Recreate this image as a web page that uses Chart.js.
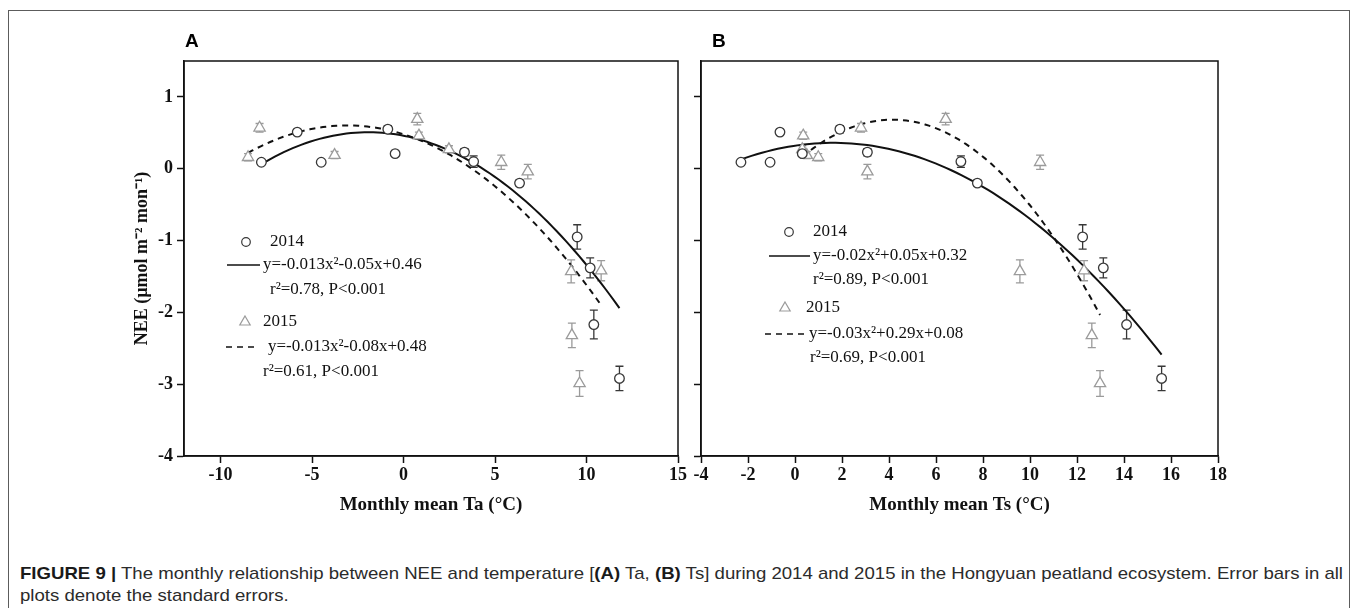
<!DOCTYPE html>
<html>
<head>
<meta charset="utf-8">
<script src="https://cdn.jsdelivr.net/npm/chart.js@4.4.1/dist/chart.umd.min.js"></script>
<style>
  html, body { margin: 0; padding: 0; background: #fff; width: 1358px; height: 608px; overflow: hidden; }
  #frame { position: absolute; left: 8px; top: 10px; width: 1342px; height: 660px; border: 1.5px solid #5c5c5c; box-sizing: border-box; }
  .panel { position: absolute; top: 0; }
  .tag { position: absolute; top: 31px; font: bold 19px "Liberation Sans", Arial, sans-serif; color: #000; line-height: 19px; }
  .cap { position: absolute; left: 20px; font: 17px "Liberation Sans", Arial, sans-serif; color: #2b2b2b; white-space: nowrap; transform-origin: 0 0; line-height: 22px; }
  .cap b { font-weight: bold; color: #1a1a1a; }
</style>
</head>
<body>
<div id="frame"></div>
<canvas id="chartA" class="panel" width="690" height="530" style="left:0px;width:690px;height:530px"></canvas>
<canvas id="chartB" class="panel" width="668" height="530" style="left:690px;width:668px;height:530px"></canvas>
<div class="tag" style="left:185px">A</div>
<div class="tag" style="left:712px">B</div>
<div id="cap1" class="cap" style="top:563px"><b>FIGURE 9 |</b> The monthly relationship between NEE and temperature [<b>(A)</b> Ta, <b>(B)</b> Ts] during 2014 and 2015 in the Hongyuan peatland ecosystem. Error bars in all</div>
<div id="cap2" class="cap" style="top:585px">plots denote the standard errors.</div>

<script>
// Monthly NEE (µmol m-2 mon-1) and its standard error, same month order in both panels
const nee2014 = [0.09, 0.51, 0.09, 0.55, 0.21, 0.23, 0.10, -0.20, -0.95, -1.38, -2.17, -2.92];
const se2014  = [0.03, 0.03, 0.03, 0.05, 0.03, 0.05, 0.08, 0.04, 0.17, 0.14, 0.20, 0.17];
const nee2015 = [0.16, 0.57, 0.19, 0.69, 0.46, 0.27, 0.09, -0.04, -1.43, -1.42, -2.32, -2.99];
const se2015  = [0.05, 0.06, 0.05, 0.08, 0.05, 0.05, 0.10, 0.10, 0.16, 0.14, 0.17, 0.18];

// Monthly mean air temperature Ta (°C)
const ta2014 = [-7.77, -5.81, -4.5, -0.86, -0.46, 3.33, 3.83, 6.34, 9.49, 10.2, 10.4, 11.8];
const ta2015 = [-8.5, -7.87, -3.77, 0.75, 0.84, 2.48, 5.34, 6.79, 9.16, 10.8, 9.2, 9.62];

// Monthly mean soil temperature Ts (°C)
const ts2014 = [-2.30, -0.64, -1.06, 1.91, 0.31, 3.08, 7.06, 7.76, 12.24, 13.12, 14.11, 15.6];
const ts2015 = [0.99, 2.81, 0.5, 6.41, 0.35, 0.31, 10.43, 3.08, 9.57, 12.3, 12.63, 12.98];

// Quadratic fits [a, b, c] for y = a x^2 + b x + c
const fitTa2014 = [-0.013, -0.05, 0.46];
const fitTa2015 = [-0.013, -0.08, 0.48];
const fitTs2014 = [-0.0151, 0.049, 0.321];
const fitTs2015 = [-0.0349, 0.29, 0.08];

// Axis ticks
const taTicks = [-10, -5, 0, 5, 10, 15];
const tsTicks = [-4, -2, 0, 2, 4, 6, 8, 10, 12, 14, 16, 18];
const neeTicks = [-4, -3, -2, -1, 0, 1];

// Legend texts
const yearLabels = ['2014', '2015'];
const taFitText = ['y=-0.013x\u00B2-0.05x+0.46', 'r\u00B2=0.78, P<0.001', 'y=-0.013x\u00B2-0.08x+0.48', 'r\u00B2=0.61, P<0.001'];
const tsFitText = ['y=-0.02x\u00B2+0.05x+0.32', 'r\u00B2=0.89, P<0.001', 'y=-0.03x\u00B2+0.29x+0.08', 'r\u00B2=0.69, P<0.001'];

const DARK = '#383838';
const LIGHT = '#9b9b9b';
const SERIF = '"Liberation Serif", "Times New Roman", serif';

function pts(xs, ys) { return xs.map((x, i) => ({ x: x, y: ys[i] })); }
function quadCurve(coef, xs, n) {
  const x0 = Math.min(...xs), x1 = Math.max(...xs);
  const out = [];
  for (let i = 0; i <= n; i++) {
    const x = x0 + (x1 - x0) * i / n;
    out.push({ x: x, y: coef[0] * x * x + coef[1] * x + coef[2] });
  }
  return out;
}

// Vertical error bars with caps, drawn under the markers
const errorBars = {
  id: 'errorBars',
  beforeDatasetsDraw(chart) {
    const { ctx, scales } = chart;
    ctx.save();
    chart.data.datasets.forEach(ds => {
      if (!ds.errors) return;
      ctx.strokeStyle = ds.borderColor;
      ctx.lineWidth = 1.3;
      ds.data.forEach((p, i) => {
        const e = ds.errors[i];
        const x = scales.x.getPixelForValue(p.x);
        const yT = scales.y.getPixelForValue(p.y + e);
        const yB = scales.y.getPixelForValue(p.y - e);
        ctx.beginPath();
        ctx.moveTo(x, yT); ctx.lineTo(x, yB);
        ctx.moveTo(x - 4, yT); ctx.lineTo(x + 4, yT);
        ctx.moveTo(x - 4, yB); ctx.lineTo(x + 4, yB);
        ctx.stroke();
      });
    });
    ctx.restore();
  }
};

// Closed plot frame
const plotBox = {
  id: 'plotBox',
  afterDraw(chart) {
    const { ctx, chartArea: a } = chart;
    ctx.save();
    ctx.strokeStyle = '#111';
    ctx.lineWidth = 1.5;
    ctx.strokeRect(a.left, a.top, a.right - a.left, a.bottom - a.top);
    ctx.restore();
  }
};

// In-plot key: year markers, fit line samples and fit statistics
const fitKey = {
  id: 'fitKey',
  afterDraw(chart, args, opts) {
    if (!opts.rows) return;
    const { ctx, chartArea: a } = chart;
    ctx.save();
    ctx.font = '17px ' + SERIF;
    ctx.fillStyle = '#111';
    ctx.textBaseline = 'middle';
    ctx.textAlign = 'left';
    opts.rows.forEach(r => {
      const y = a.top + r.dy;
      if (r.marker === 'circle') {
        ctx.beginPath();
        ctx.strokeStyle = DARK; ctx.lineWidth = 1.2;
        ctx.arc(a.left + r.mx, y, 4.3, 0, Math.PI * 2);
        ctx.stroke();
      } else if (r.marker === 'triangle') {
        const cx = a.left + r.mx, rr = 6;
        ctx.beginPath();
        ctx.strokeStyle = LIGHT; ctx.lineWidth = 1.2;
        ctx.moveTo(cx, y - rr);
        ctx.lineTo(cx + rr * 0.866, y + rr * 0.5);
        ctx.lineTo(cx - rr * 0.866, y + rr * 0.5);
        ctx.closePath();
        ctx.stroke();
      } else if (r.line) {
        ctx.beginPath();
        ctx.strokeStyle = '#111'; ctx.lineWidth = 1.6;
        ctx.setLineDash(r.line === 'dash' ? [6, 5] : []);
        ctx.moveTo(a.left + r.l0, y); ctx.lineTo(a.left + r.l1, y);
        ctx.stroke();
        ctx.setLineDash([]);
      }
      ctx.fillText(r.text, a.left + r.tx, y);
    });
    ctx.restore();
  }
};

function tickFont() { return { family: SERIF, size: 18, weight: 'bold' }; }

function makeChart(id, cfg) {
  return new Chart(document.getElementById(id), {
    type: 'scatter',
    data: {
      datasets: [
        { label: '2014', data: pts(cfg.x2014, nee2014), errors: se2014, pointStyle: 'circle', pointRadius: 4.8, pointHoverRadius: 4.8,
          borderColor: DARK, backgroundColor: '#fff', pointBorderWidth: 1.3 },
        { label: '2015', data: pts(cfg.x2015, nee2015), errors: se2015, pointStyle: 'triangle', pointRadius: 6.5, pointHoverRadius: 6.5,
          borderColor: LIGHT, backgroundColor: '#fff', pointBorderWidth: 1.3 },
        { label: 'fit 2014', data: quadCurve(cfg.fit2014, cfg.x2014, 80), showLine: true, pointRadius: 0,
          borderColor: '#111', borderWidth: 2, fill: false },
        { label: 'fit 2015', data: quadCurve(cfg.fit2015, cfg.x2015, 80), showLine: true, pointRadius: 0,
          borderColor: '#111', borderWidth: 2, borderDash: [6, 5], fill: false }
      ]
    },
    options: {
      responsive: false,
      animation: false,
      events: [],
      layout: { padding: cfg.padding },
      plugins: {
        legend: { display: false },
        tooltip: { enabled: false },
        fitKey: { rows: cfg.rows }
      },
      scales: {
        x: {
          type: 'linear', min: cfg.xMin, max: cfg.xMax,
          afterBuildTicks: s => { s.ticks = cfg.xTicks.map(v => ({ value: v })); },
          afterFit: s => { s.height = 62; },
          border: { display: true, color: '#111', width: 1.5 },
          grid: { display: true, drawOnChartArea: false, drawTicks: true, tickLength: 7, tickWidth: 1.5, tickColor: '#111', color: '#111' },
          ticks: { font: tickFont(), color: '#111', padding: 2, maxRotation: 0, autoSkip: false },
          title: { display: true, text: cfg.xTitle, font: { family: SERIF, size: 19, weight: 'bold' }, color: '#111', padding: { top: 0, bottom: 2 } }
        },
        y: {
          type: 'linear', min: -4, max: 1.5,
          afterBuildTicks: s => { s.ticks = neeTicks.map(v => ({ value: v })); },
          afterFit: s => { s.width = cfg.yWidth; },
          border: { display: true, color: '#111', width: 1.5 },
          grid: { display: true, drawOnChartArea: false, drawTicks: true, tickLength: 7, tickWidth: 1.5, tickColor: '#111', color: '#111' },
          ticks: { font: tickFont(), color: '#111', padding: 4, display: cfg.yLabels,
                   callback: v => (cfg.yLabels ? String(v) : '') },
          title: { display: cfg.yLabels, text: 'NEE (\u00B5mol m\u207B\u00B2 mon\u207B\u00B9)', font: { family: SERIF, size: 18, weight: 'bold' }, color: '#111', padding: { top: 8, bottom: 0 } }
        }
      }
    },
    plugins: [errorBars, plotBox, fitKey]
  });
}

makeChart('chartA', {
  x2014: ta2014, x2015: ta2015, fit2014: fitTa2014, fit2015: fitTa2015,
  xMin: -12, xMax: 15, xTicks: taTicks, xTitle: 'Monthly mean Ta (\u00B0C)',
  yWidth: 60, yLabels: true,
  padding: { left: 124, top: 61, right: 12, bottom: 12 },
  rows: [
    { marker: 'circle', mx: 62, dy: 181, tx: 86, text: yearLabels[0] },
    { line: 'solid', l0: 43, l1: 76, dy: 204, tx: 79, text: taFitText[0] },
    { dy: 229, tx: 86, text: taFitText[1] },
    { marker: 'triangle', mx: 61, dy: 261, tx: 79, text: yearLabels[1] },
    { line: 'dash', l0: 42, l1: 73, dy: 286, tx: 84, text: taFitText[2] },
    { dy: 311, tx: 79, text: taFitText[3] }
  ]
});

makeChart('chartB', {
  x2014: ts2014, x2015: ts2015, fit2014: fitTs2014, fit2015: fitTs2015,
  xMin: -4, xMax: 18, xTicks: tsTicks, xTitle: 'Monthly mean Ts (\u00B0C)',
  yWidth: 11, yLabels: false,
  padding: { left: 0, top: 61, right: 140, bottom: 12 },
  rows: [
    { marker: 'circle', mx: 88, dy: 171, tx: 112, text: yearLabels[0] },
    { line: 'solid', l0: 68, l1: 109, dy: 195, tx: 112, text: tsFitText[0] },
    { dy: 219, tx: 112, text: tsFitText[1] },
    { marker: 'triangle', mx: 84, dy: 247, tx: 105, text: yearLabels[1] },
    { line: 'dash', l0: 64, l1: 106, dy: 273, tx: 108, text: tsFitText[2] },
    { dy: 297, tx: 109, text: tsFitText[3] }
  ]
});

// Fit the condensed caption to the frame width
(function () {
  const c1 = document.getElementById('cap1');
  const c2 = document.getElementById('cap2');
  c1.style.display = 'inline-block';
  const w = c1.getBoundingClientRect().width;
  const k = 1323 / w;
  c1.style.transform = 'scaleX(' + k + ')';
  c2.style.transform = 'scaleX(' + k + ')';
})();
</script>
</body>
</html>
